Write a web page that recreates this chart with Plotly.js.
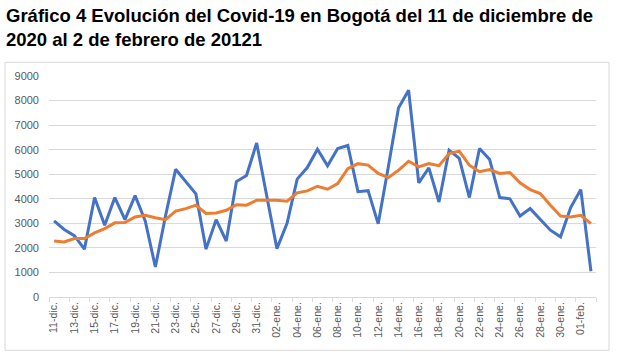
<!DOCTYPE html>
<html>
<head>
<meta charset="utf-8">
<script src="https://cdn.plot.ly/plotly-3.0.1.min.js"></script>
<style>html,body{margin:0;padding:0;background:#fff;}#chart{width:625px;height:359px;}</style>
</head>
<body>
<div id="chart"></div>
<script>
const fechas = ['11-dic.','12-dic.','13-dic.','14-dic.','15-dic.','16-dic.','17-dic.','18-dic.','19-dic.','20-dic.',
  '21-dic.','22-dic.','23-dic.','24-dic.','25-dic.','26-dic.','27-dic.','28-dic.','29-dic.','30-dic.','31-dic.',
  '01-ene.','02-ene.','03-ene.','04-ene.','05-ene.','06-ene.','07-ene.','08-ene.','09-ene.','10-ene.',
  '11-ene.','12-ene.','13-ene.','14-ene.','15-ene.','16-ene.','17-ene.','18-ene.','19-ene.','20-ene.',
  '21-ene.','22-ene.','23-ene.','24-ene.','25-ene.','26-ene.','27-ene.','28-ene.','29-ene.','30-ene.',
  '31-ene.','01-feb.','02-feb.'];
const casosDiarios = [3100,2750,2500,1950,4050,2920,4050,3150,4130,3100,
  1220,3300,5200,4700,4200,1950,3150,2280,4700,4950,6270,
  4100,1970,3000,4800,5270,6020,5340,6050,6170,4290,
  4330,2980,5300,7700,8420,4650,5260,3870,5980,5650,
  4050,6050,5600,4050,4000,3300,3600,3150,2720,2450,
  3640,4375,1050];
const promedioMovil = [2280,2240,2380,2380,2610,2785,3020,3030,3260,3330,
  3230,3150,3500,3600,3740,3400,3420,3530,3760,3740,3940,
  3940,3940,3900,4240,4320,4510,4390,4620,5230,5430,
  5370,5030,4860,5160,5530,5300,5430,5350,5840,5940,
  5370,5100,5190,5030,5070,4650,4375,4210,3740,3300,
  3260,3330,2990];
const yTicks = [0,1000,2000,3000,4000,5000,6000,7000,8000,9000];
const titulo = 'Gráfico 4 Evolución del Covid-19 en Bogotá del 11 de diciembre de<br>2020 al 2 de febrero de 20121';

const traces = [
  {x: fechas, y: casosDiarios, type: 'scatter', mode: 'lines', name: 'Casos',
   line: {color: '#4472C4', width: 3}, hoverinfo: 'x+y'},
  {x: fechas, y: promedioMovil, type: 'scatter', mode: 'lines', name: 'Promedio',
   line: {color: '#ED7D31', width: 3}, hoverinfo: 'x+y'}
];

const PL = 49, PW = 547, PB = 296.7, PH = 221;
const px2x = v => (v - PL) / PW;
const px2y = v => (PB - v) / PH;

const layout = {
  width: 625, height: 359,
  margin: {l: 49, r: 29, t: 76, b: 62},
  paper_bgcolor: '#ffffff', plot_bgcolor: '#ffffff',
  showlegend: false,
  font: {family: 'Liberation Sans, Arial, sans-serif', color: '#595959', size: 11},
  annotations: [
    {text: titulo, xref: 'paper', yref: 'paper', x: px2x(4), y: px2y(3),
     xanchor: 'left', yanchor: 'top', align: 'left', showarrow: false,
     font: {family: 'Liberation Sans, Arial, sans-serif', size: 18.5, color: '#000000', weight: 'bold'}}
  ],
  xaxis: {
    type: 'category', categoryorder: 'array', categoryarray: fechas,
    range: [-0.5, fechas.length - 0.5],
    tickmode: 'linear', tick0: 0, dtick: 2,
    tickson: 'boundaries', ticks: 'outside', ticklen: 4, tickcolor: '#d9d9d9',
    tickangle: -90, tickfont: {size: 10.5, color: '#595959'},
    showgrid: false, showline: true, linecolor: '#d9d9d9', linewidth: 1,
    fixedrange: true
  },
  yaxis: {
    range: [0, 9000], tickmode: 'array', tickvals: yTicks, ticktext: yTicks.map(String),
    showgrid: true, gridcolor: '#d9d9d9', gridwidth: 1,
    zeroline: false, showline: false, ticks: '',
    ticklabelstandoff: 9, tickfont: {size: 11, color: '#595959'},
    fixedrange: true
  },
  shapes: [
    {type: 'rect', xref: 'paper', yref: 'paper',
     x0: px2x(5), x1: px2x(609), y0: px2y(350), y1: px2y(62),
     line: {color: '#d9d9d9', width: 1}, fillcolor: 'rgba(0,0,0,0)', layer: 'below'}
  ]
};

Plotly.newPlot('chart', traces, layout, {displayModeBar: false, staticPlot: true});
</script>
</body>
</html>
